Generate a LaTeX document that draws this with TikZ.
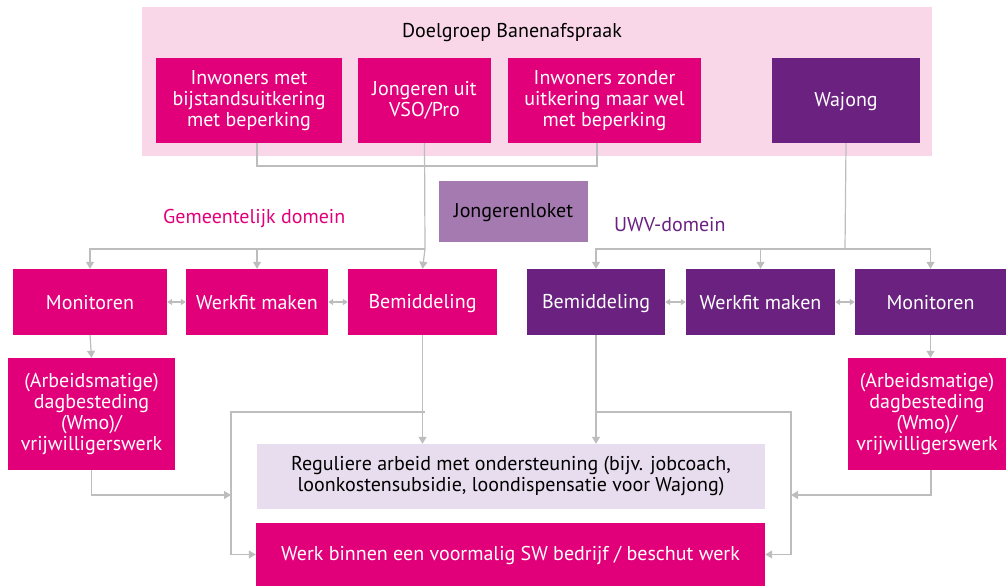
\documentclass[tikz,border=0pt]{standalone}
\usepackage{fontspec}
\setmainfont{PT Sans}
\usetikzlibrary{arrows.meta,positioning}
\definecolor{mag}{HTML}{E2007A}
\definecolor{purp}{HTML}{6A2180}
\definecolor{bgpink}{HTML}{FAD7E8}
\definecolor{loket}{HTML}{A57AB0}
\definecolor{lav}{HTML}{E8DDEE}
\definecolor{conn}{HTML}{BDBDBD}
\tikzset{
  box/.style={inner sep=0pt, align=center, font=\fontsize{20}{21}\selectfont,
    execute at begin node=\rule{0pt}{17pt}, execute at end node=\rule[-3pt]{0pt}{3pt}},
  twoline/.style={execute at begin node=\rule{0pt}{22pt}},
  magbox/.style={box, fill=mag, text=white},
  purbox/.style={box, fill=purp, text=white},
  line/.style={draw=conn, line width=1.2pt},
  arr/.style={line, -{Triangle[width=8pt,length=7pt]}},
  darr/.style={line, {Triangle[width=6pt,length=5pt]}-{Triangle[width=6pt,length=5pt]}},
}
\newcommand{\boxat}[7]{% style, name, x1, y1, x2, y2, text
  \node[#1, minimum width={#5-#3}, minimum height={#6-#4}] (#2) at ({(#3+#5)/2},{(#4+#6)/2}) {#7};}
\begin{document}
\begin{tikzpicture}[x=1pt,y=-1pt]
\useasboundingbox (0,0) rectangle (1006,586);
% background
\fill[bgpink] (142,7) rectangle (932,156);
\node[box, text=black] (title) at (512,31) {Doelgroep Banenafspraak};
\boxat{magbox}{b1}{156}{58}{342}{143}{Inwoners met\\bijstandsuitkering\\met beperking}
\boxat{magbox, twoline}{b2}{358}{58}{491}{143}{Jongeren uit\\VSO/Pro}
\boxat{magbox}{b3}{508}{58}{701}{143}{Inwoners zonder\\uitkering maar wel\\met beperking}
\boxat{purbox}{waj}{772}{58}{920}{143}{Wajong}
\boxat{box, fill=loket, text=black}{loket}{439}{181}{588}{242}{Jongerenloket}
\node[box, text=mag, anchor=west] (gem) at (163,217) {Gemeentelijk domein};
\node[box, text=purp, anchor=west] (uwv) at (614,224) {UWV-domein};
% left row
\boxat{magbox}{lmon}{13}{269}{167}{335}{Monitoren}
\boxat{magbox}{lwf}{186}{269}{328}{335}{Werkfit maken}
\boxat{magbox}{lbem}{348}{269}{497}{335}{Bemiddeling}
\boxat{magbox}{larb}{8}{358}{175}{470}{(Arbeidsmatige)\\dagbesteding\\(Wmo)/\\vrijwilligerswerk}
% right row
\boxat{purbox}{rbem}{527}{269}{665}{335}{Bemiddeling}
\boxat{purbox}{rwf}{686}{269}{835}{335}{Werkfit maken}
\boxat{purbox}{rmon}{855}{269}{1006}{335}{Monitoren}
\boxat{magbox}{rarb}{848}{358}{1006}{470}{(Arbeidsmatige)\\dagbesteding\\(Wmo)/\\vrijwilligerswerk}
% bottom
\boxat{box, twoline, fill=lav, text=black}{reg}{257}{444}{765}{509}{Reguliere arbeid met ondersteuning (bijv. jobcoach,\\loonkostensubsidie, loondispensatie voor Wajong)}
\boxat{magbox}{sw}{256}{523}{765}{586}{Werk binnen een voormalig SW bedrijf / beschut werk}
% coordinates
\coordinate (top1) at (257,143);
\coordinate (top3) at (597,143);
\coordinate (lsplit) at (425,249);
\coordinate (rsplit) at (845,249);
\coordinate (lbr) at (425,412);
\coordinate (lcol) at (231,412);
\coordinate (lj) at (231,495);
\coordinate (rbr) at (597,412);
\coordinate (rcol) at (791,412);
\coordinate (rj) at (791,495);
% top connectors
\draw[line] (top1) -- ++(0,23) -| (top3);
\draw[line] (b2.south) -- (lsplit);
\draw[arr] (lsplit) -| (lmon.north);
\draw[arr] (lwf.north |- lsplit) -- (lwf.north);
\draw[arr] (lsplit) -- (lbem.north);
\draw[line] (waj.south) -- (rsplit);
\draw[arr] (rsplit) -| (rbem.north);
\draw[arr] (rsplit) -| (rmon.north);
\draw[arr] (rwf.north |- rsplit) -- (rwf.north);
% bidirectional
\draw[darr] (lmon.east) -- (lwf.west);
\draw[darr] (lwf.east) -- (lbem.west);
\draw[darr] (rbem.east) -- (rwf.west);
\draw[darr] (rwf.east) -- (rmon.west);
% monitor to arb
\draw[arr] (lmon.south) -- (larb.north);
\draw[arr] (rmon.south) -- (rmon.south |- rarb.north);
% bemiddeling down
\draw[arr] (lbem.south) -- (lbem.south |- reg.north);
\draw[arr] (rbem.south) -- (rbem.south |- reg.north);
\draw[arr] (lbr) -- (lcol) |- (sw.west);
\draw[arr] (rbr) -- (rcol) |- (sw.east);
\draw[arr] (larb.south) |- (lj);
\draw[arr] (rarb.south -| 931,0) |- (rj);
\end{tikzpicture}
\end{document}
